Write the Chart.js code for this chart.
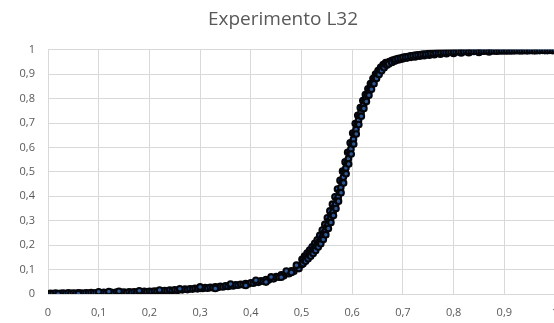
<!DOCTYPE html>
<html>
<head>
<meta charset="utf-8">
<script src="https://cdn.jsdelivr.net/npm/chart.js@4.4.1/dist/chart.umd.min.js"></script>
<style>
  html, body { margin: 0; padding: 0; background: #ffffff; overflow: hidden; }
  #wrap { width: 578px; height: 323px; }
</style>
</head>
<body>
<div id="wrap"><canvas id="c" width="578" height="323"></canvas></div>
<script>
const chartTitle = 'Experimento L32';
const xTickLabels = ['0', '0,1', '0,2', '0,3', '0,4', '0,5', '0,6', '0,7', '0,8', '0,9', '1'];
const yTickLabels = ['0', '0,1', '0,2', '0,3', '0,4', '0,5', '0,6', '0,7', '0,8', '0,9', '1'];

// Low tail (x 0 .. 0.5)
const tailX = [0.000,0.005,0.010,0.015,0.020,0.025,0.030,0.035,0.040,0.045,0.050,0.055,0.060,0.065,0.070,0.075,0.080,0.085,0.090,0.095,
  0.100,0.105,0.110,0.115,0.120,0.125,0.130,0.135,0.140,0.145,0.150,0.155,0.160,0.165,0.170,0.175,0.180,0.185,0.190,0.195,
  0.200,0.205,0.210,0.215,0.220,0.225,0.230,0.235,0.240,0.245,0.250,0.255,0.260,0.265,0.270,0.275,0.280,0.285,0.290,0.295,
  0.300,0.305,0.310,0.315,0.320,0.325,0.330,0.335,0.340,0.345,0.350,0.355,0.360,0.365,0.370,0.375,0.380,0.385,0.390,0.395,
  0.400,0.405,0.410,0.415,0.420,0.425,0.430,0.435,0.440,0.445,0.450,0.455,0.460,0.465,0.470,0.475,0.480,0.485,0.490,0.495,0.500];
const tailY = [0.001,0.003,0.002,0.004,0.002,0.003,0.004,0.002,0.005,0.003,0.004,0.003,0.005,0.004,0.003,0.005,0.004,0.006,0.004,0.005,
  0.006,0.004,0.007,0.005,0.006,0.007,0.005,0.008,0.006,0.007,0.008,0.006,0.009,0.007,0.009,0.008,0.010,0.008,0.011,0.009,
  0.011,0.010,0.012,0.011,0.013,0.012,0.014,0.013,0.016,0.014,0.017,0.015,0.018,0.017,0.020,0.018,0.021,0.020,0.023,0.021,
  0.024,0.023,0.026,0.024,0.027,0.026,0.029,0.027,0.031,0.029,0.033,0.031,0.035,0.033,0.037,0.036,0.040,0.038,0.043,0.041,
  0.046,0.044,0.050,0.048,0.054,0.052,0.059,0.057,0.065,0.062,0.071,0.069,0.078,0.075,0.086,0.083,0.095,0.093,0.106,0.104,0.120];

// Extra scattered points lying a little above / below the tail
const tailExtraX = [0.02,0.06,0.10,0.12,0.14,0.18,0.22,0.26,0.30,0.33,0.36,0.39,0.41,0.43,0.44,0.46,0.47,0.48,0.49];
const tailExtraY = [0.000,0.001,0.009,0.010,0.011,0.013,0.016,0.021,0.029,0.023,0.041,0.035,0.056,0.049,0.070,0.069,0.094,0.088,0.118];

// Steep rise (three overlapping rows of points)
const riseX = [0.5025,0.505,0.5075,0.510,0.5125,0.515,0.5175,0.520,0.5225,0.525,0.5275,0.530,0.5325,0.535,0.5375,0.540,0.5425,0.545,0.5475,0.550,
  0.5525,0.555,0.5575,0.560,0.5625,0.565,0.5675,0.570,0.5725,0.575,0.5775,0.580,0.5825,0.585,0.5875,0.590,0.5925,0.595,0.5975,0.600,
  0.6025,0.605,0.6075,0.610,0.6125,0.615,0.6175,0.620,0.6225,0.625,0.6275,0.630,0.6325,0.635,0.6375,0.640,0.6425,0.645,0.6475,0.650,
  0.6525,0.655,0.6575,0.660,0.6625,0.665,0.6675,0.670,0.6725,0.675,0.6775,0.680];
const riseY = [0.133,0.141,0.144,0.152,0.156,0.163,0.166,0.175,0.179,0.187,0.190,0.199,0.205,0.214,0.219,0.230,0.238,0.250,0.259,0.274,
  0.285,0.301,0.310,0.326,0.338,0.356,0.368,0.386,0.398,0.417,0.436,0.458,0.478,0.501,0.516,0.536,0.554,0.576,0.594,0.616,
  0.634,0.656,0.674,0.696,0.712,0.731,0.744,0.761,0.775,0.791,0.802,0.816,0.828,0.841,0.851,0.863,0.874,0.886,0.893,0.903,
  0.910,0.918,0.924,0.931,0.935,0.940,0.944,0.948,0.951,0.953,0.955,0.958];
const riseRightX = [0.503,0.508,0.513,0.518,0.523,0.528,0.533,0.538,0.543,0.548,0.553,0.558,0.563,0.568,0.573,0.578,0.583,0.588,0.593,0.598,
  0.603,0.608,0.613,0.618,0.623,0.628,0.633,0.638,0.643,0.648,0.653,0.658,0.663,0.668];
const riseRightY = [0.124,0.134,0.144,0.155,0.166,0.178,0.192,0.206,0.223,0.243,0.268,0.293,0.321,0.350,0.380,0.415,0.455,0.492,0.532,0.573,
  0.614,0.655,0.694,0.728,0.760,0.788,0.814,0.838,0.861,0.882,0.899,0.914,0.927,0.937];
const riseLeftX = [0.501,0.506,0.511,0.516,0.521,0.526,0.531,0.536,0.541,0.546,0.551,0.556,0.561,0.566,0.571,0.576,0.581,0.586,0.591,0.596,
  0.601,0.606,0.611,0.616,0.621,0.626,0.631,0.636,0.641,0.646,0.651,0.656,0.661,0.666];
const riseLeftY = [0.142,0.155,0.167,0.180,0.193,0.207,0.222,0.240,0.262,0.285,0.312,0.340,0.368,0.398,0.430,0.465,0.503,0.541,0.580,0.619,
  0.659,0.698,0.732,0.763,0.792,0.817,0.840,0.862,0.882,0.900,0.915,0.928,0.939,0.948];

// Plateau (x 0.68 .. 1)
const plateauX = [0.685,0.690,0.695,0.700,0.705,0.710,0.715,0.720,0.725,0.730,0.735,0.740,0.745,0.750,0.755,0.760,0.765,0.770,0.775,0.780,
  0.785,0.790,0.795,0.800,0.805,0.810,0.815,0.820,0.825,0.830,0.835,0.840,0.845,0.850,0.855,0.860,0.865,0.870,0.875,0.880,
  0.885,0.890,0.895,0.900,0.905,0.910,0.915,0.920,0.925,0.930,0.935,0.940,0.945,0.950,0.955,0.960,0.965,0.970,0.975,0.980,
  0.985,0.990,0.995,1.000];
const plateauY = [0.961,0.964,0.966,0.969,0.971,0.972,0.975,0.976,0.978,0.979,0.980,0.982,0.982,0.984,0.985,0.985,0.987,0.987,0.988,0.989,
  0.989,0.990,0.990,0.991,0.991,0.992,0.991,0.992,0.993,0.992,0.993,0.993,0.994,0.993,0.994,0.994,0.995,0.994,0.995,0.995,
  0.994,0.995,0.996,0.995,0.996,0.995,0.996,0.996,0.997,0.996,0.996,0.997,0.996,0.997,0.997,0.996,0.997,0.997,0.998,0.997,
  0.997,0.998,0.997,0.998];
const plateauExtraX = [0.672,0.678,0.683,0.688,0.694,0.700,0.708,0.716,0.724,0.733,0.742,0.752,0.762,0.774,0.786,0.800,0.815,0.830,0.850,0.870];
const plateauExtraY = [0.942,0.948,0.953,0.957,0.960,0.963,0.966,0.969,0.971,0.974,0.976,0.978,0.980,0.982,0.984,0.985,0.987,0.988,0.989,0.991];

function pairs(xs, ys) { return xs.map((x, i) => ({ x: x, y: ys[i] })); }
const points = [].concat(
  pairs(tailX, tailY), pairs(tailExtraX, tailExtraY),
  pairs(riseLeftX, riseLeftY), pairs(riseX, riseY), pairs(riseRightX, riseRightY),
  pairs(plateauExtraX, plateauExtraY), pairs(plateauX, plateauY)
);

const tickFont = { family: 'Open Sans', size: 11 };
const textColor = '#595959';
const gridColor = '#d9d9d9';

new Chart(document.getElementById('c'), {
  type: 'scatter',
  data: {
    datasets: [{
      data: points,
      showLine: false,
      pointRadius: 2.8,
      pointBorderWidth: 2.1,
      pointBackgroundColor: '#2f5894',
      pointBorderColor: '#04060b'
    }]
  },
  options: {
    responsive: false,
    animation: false,
    devicePixelRatio: 1,
    layout: { padding: { left: 11, right: 23, top: 0, bottom: 4 } },
    plugins: {
      legend: { display: false },
      tooltip: { enabled: false },
      title: {
        display: true,
        text: chartTitle,
        color: textColor,
        font: { family: 'Open Sans', size: 19, weight: 'normal' },
        padding: { top: 8, bottom: 19 }
      }
    },
    scales: {
      x: {
        type: 'linear', min: 0, max: 1,
        afterFit: (s) => { s.height = 25; },
        ticks: { stepSize: 0.1, padding: 12, color: textColor, font: tickFont, maxRotation: 0, autoSkip: false,
          callback: (v, i) => xTickLabels[i] },
        grid: { color: gridColor, lineWidth: 1, drawTicks: false },
        border: { display: false }
      },
      y: {
        type: 'linear', min: 0, max: 1,
        afterFit: (s) => { s.width = 37; },
        ticks: { stepSize: 0.1, padding: 13, color: textColor, font: tickFont, autoSkip: false,
          callback: (v, i) => yTickLabels[i] },
        grid: { color: gridColor, lineWidth: 1, drawTicks: false },
        border: { display: false }
      }
    }
  }
});
</script>
</body>
</html>
